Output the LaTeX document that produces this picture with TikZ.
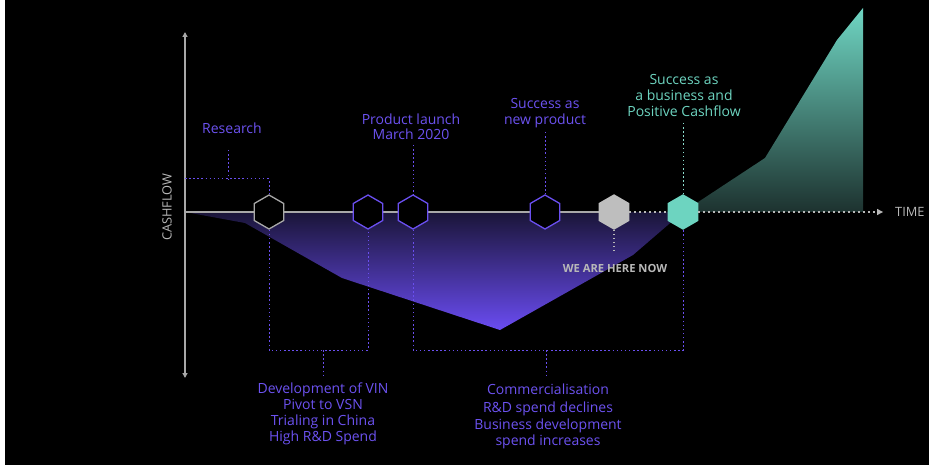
\documentclass[tikz,border=0pt]{standalone}
\usepackage{fontspec}
\setmainfont{Open Sans}
\usetikzlibrary{shapes.geometric,arrows.meta}
\definecolor{purp}{HTML}{6A4FF0}
\definecolor{purptxt}{HTML}{6C52F0}
\definecolor{tealc}{HTML}{6DD4C0}
\definecolor{axisgray}{HTML}{A8A8A8}
\definecolor{hexgray}{HTML}{BEBEBE}
\definecolor{txtgray}{HTML}{B8B8B8}
\definecolor{purpdark}{HTML}{1A1538}
\definecolor{purplight}{HTML}{6A4CF2}
\definecolor{tealtop}{HTML}{6FD6C3}
\definecolor{tealbot}{HTML}{1D322F}
\begin{document}
\begin{tikzpicture}[x=1pt,y=-1pt,
  hexa/.style={regular polygon, regular polygon sides=6, shape border rotate=30,
    inner sep=0pt, minimum size=34pt, line width=1.3pt, fill=black},
  axisline/.style={draw=axisgray, line width=1.4pt},
  pdot/.style={draw=purp, line width=1pt, dash pattern=on 1.5pt off 2.6pt},
  gdot/.style={draw=txtgray, line width=1.5pt, dash pattern=on 2pt off 3pt},
  tdot/.style={draw=tealc!80!white, line width=1pt, dash pattern=on 1.5pt off 2.6pt},
  ptxt/.style={text=purptxt, align=center, font=\fontsize{14}{16}\selectfont, inner sep=0pt},
  ttxt/.style={text=tealc, align=center, font=\fontsize{14}{16}\selectfont, inner sep=0pt},
  gtxt/.style={text=txtgray, inner sep=0pt, font=\fontsize{12.8}{14}\selectfont},
]
% canvas
\fill[black] (0,0) rectangle (929,465);
\fill[white] (0,0) rectangle (5,465);
\useasboundingbox (0,0) rectangle (929,465);

% shaded areas
\shade[top color=purpdark, bottom color=purplight]
  (185,212) -- (245,223) -- (342,278) -- (500,330) -- (633,255) -- (683,212) -- cycle;
\shade[top color=tealtop, bottom color=tealbot]
  (683,212) -- (765,158) -- (837,40) -- (863,8) -- (863,212) -- cycle;

% coordinates
\coordinate (origin) at (185,212);
\coordinate (axTop) at (185,32);
\coordinate (axBot) at (185,378);
\coordinate (timeEnd) at (878,212);
\coordinate (rsL) at (185,179);
\coordinate (rsJ) at (228,179);
\coordinate (rsTop) at (228,150);
\coordinate (laTop) at (413,145);
\coordinate (npTop) at (545,132);
\coordinate (sbTop) at (683,123);
\coordinate (nowBot) at (614,252);
\coordinate (b1L) at (269,350);
\coordinate (b1R) at (368,350);
\coordinate (b1M) at (323,350);
\coordinate (b1S) at (323,377);
\coordinate (b2L) at (413,350);
\coordinate (b2R) at (683,350);
\coordinate (b2M) at (546,350);
\coordinate (b2S) at (546,377);

% axes
\draw[axisline, {Triangle[length=5pt,width=5pt]}-{Triangle[length=5pt,width=5pt]}] (axTop) -- (axBot);
\draw[axisline] (origin) -- (614,212);

% hexagons
\node[hexa, draw=axisgray] (hRes) at (269,212) {};
\node[hexa, draw=purp] (hPivot) at (368,212) {};
\node[hexa, draw=purp] (hLaunch) at (413,212) {};
\node[hexa, draw=purp] (hNew) at (545,212) {};
\node[hexa, draw=hexgray, fill=hexgray] (hNow) at (614,212) {};
\node[hexa, draw=tealc, fill=tealc] (hPos) at (683,212) {};

% time axis dotted
\draw[gdot] (hNow.east) -- (hPos.west);
\draw[gdot] (hPos.east) -- (timeEnd);
\draw[fill=txtgray, draw=none] (timeEnd) ++(-1,-3.2) -- ++(6,3.2) -- ++(-6,3.2) -- cycle;
\node[gtxt, anchor=west] (lTime) at (895,212) {TIME};
\node[gtxt, rotate=90] (lCash) at (167,207) {CASHFLOW};

% top connectors
\draw[pdot] (rsL) -- (rsJ) -| (hRes.north);
\draw[pdot] (rsTop) -- (rsJ);
\draw[pdot] (laTop) -- (hLaunch.north);
\draw[pdot] (npTop) -- (hNew.north);
\draw[tdot] (sbTop) -- (hPos.north);
\draw[gdot, line width=1.3pt, dash pattern=on 1.6pt off 2.4pt] (hNow.south) -- (nowBot);

% bottom brackets
\draw[pdot] (hRes.south) -- (b1L) -- (b1R) -- (hPivot.south);
\draw[pdot] (b1M) -- (b1S);
\draw[pdot] (hLaunch.south) -- (b2L) -- (b2R) -- (hPos.south);
\draw[pdot] (b2M) -- (b2S);

% labels
\node[ptxt] (lRes) at (232,128) {Research};
\node[ptxt] (lLaunch) at (411,127) {Product launch\\[-1.5pt]March 2020};
\node[ptxt] (lNew) at (545,113) {Success as\\new product};
\node[ttxt] (lPos) at (684,96) {Success as\\a business and\\Positive Cashflow};
\node[text=txtgray, inner sep=0pt, font=\fontsize{11.2}{12}\selectfont\bfseries] (lNow) at (615,268) {WE ARE HERE NOW};
\node[ptxt] (lDev) at (323,414) {Development of VIN\\Pivot to VSN\\Trialing in China\\High R\&D Spend};
\node[ptxt] (lCom) at (548,416.5) {Commercialisation\\[1.5pt]R\&D spend declines\\[1.5pt]Business development\\spend increases};
\end{tikzpicture}
\end{document}
